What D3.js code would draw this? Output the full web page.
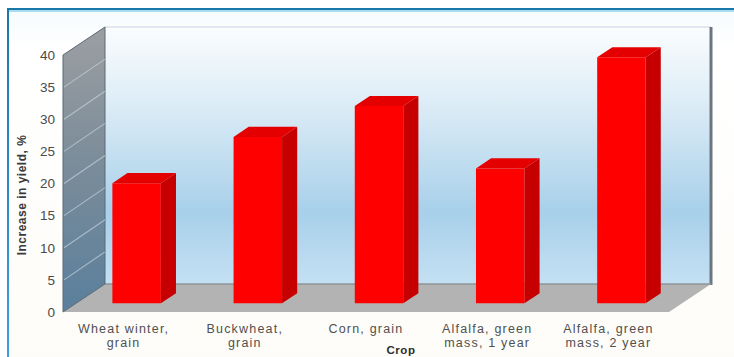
<!DOCTYPE html>
<html>
<head>
<meta charset="utf-8">
<script src="https://cdn.jsdelivr.net/npm/d3@7/dist/d3.min.js"></script>
<style>
  html, body { margin: 0; padding: 0; background: #fff; overflow: hidden; }
  svg { display: block; }
  text { font-family: "Liberation Sans", Arial, sans-serif; }
</style>
</head>
<body>
<svg id="chart" width="734" height="357"></svg>
<script>
// Yield increase per crop
const categories = [
  ["Wheat winter,", "grain"],
  ["Buckwheat,", "grain"],
  ["Corn, grain"],
  ["Alfalfa, green", "mass, 1 year"],
  ["Alfalfa, green", "mass, 2 year"]
];
const yieldIncrease = [18.7, 25.9, 30.7, 21, 38.3];
const yTicks = [0, 5, 10, 15, 20, 25, 30, 35, 40];
const yTitle = "Increase in yield, %";
const xTitle = "Crop";

const svg = d3.select("#chart");
const defs = svg.append("defs");

function linearGradient(id, y1, y2, stops) {
  const g = defs.append("linearGradient")
    .attr("id", id).attr("gradientUnits", "userSpaceOnUse")
    .attr("x1", 0).attr("x2", 0).attr("y1", y1).attr("y2", y2);
  stops.forEach(([o, c]) => g.append("stop").attr("offset", o).attr("stop-color", c));
}

// Plot box: the front plane plus an oblique depth offset
const plotLeft = 63, plotRight = 669, plotBase = 312, plotTop = 55;
const depthX = 42, depthY = 28;
const barZ0 = 0.31, barZ1 = 0.67;

const x = d3.scaleBand().domain(d3.range(categories.length))
  .range([plotLeft, plotRight]).paddingInner(0.6).paddingOuter(0.3);
const y = d3.scaleLinear().domain([0, 40]).range([plotBase, plotTop]);

// Maps a front-plane point and a depth fraction to the screen
const project = (px, py, z) => [px + z * depthX, py - z * depthY];
const poly = pts => pts.map(p => p.join(",")).join(" ");

linearGradient("panelBg", 9, 357, [[0, "#f6fbfd"], [0.12, "#ffffff"], [1, "#fdfcf8"]]);
linearGradient("frameLeft", 9, 357, [[0, "#1a78a8"], [1, "#3a9fe0"]]);
linearGradient("backWall", y(40) - depthY, plotBase - depthY, [
  [0, "#fbfdfe"], [0.3, "#dcecf6"], [0.72, "#a8d0ea"], [1, "#c4e0f3"]
]);
linearGradient("sideWall", y(40) - depthY, plotBase, [
  [0, "#9c9fa2"], [0.45, "#7d8d9a"], [1, "#5a7f9c"]
]);

// Outer panel, open towards the right and bottom edges
svg.append("rect").attr("x", 8).attr("y", 9).attr("width", 726).attr("height", 348)
  .attr("fill", "url(#panelBg)");
svg.append("line").attr("x1", 8).attr("x2", 734).attr("y1", 9).attr("y2", 9)
  .attr("stroke", "#1a78a8").attr("stroke-width", 2);
svg.append("line").attr("x1", 8).attr("x2", 734).attr("y1", 11).attr("y2", 11)
  .attr("stroke", "#a9dcf2").attr("stroke-width", 2);
svg.append("line").attr("x1", 8).attr("x2", 8).attr("y1", 8).attr("y2", 357)
  .attr("stroke", "url(#frameLeft)").attr("stroke-width", 2);

// Back wall
const backTL = project(plotLeft, y(40), 1), backBR = project(plotRight, plotBase, 1);
svg.append("rect")
  .attr("x", backTL[0]).attr("y", backTL[1])
  .attr("width", backBR[0] - backTL[0]).attr("height", backBR[1] - backTL[1])
  .attr("fill", "url(#backWall)");
svg.append("line")
  .attr("x1", backTL[0]).attr("x2", backBR[0]).attr("y1", backTL[1]).attr("y2", backTL[1])
  .attr("stroke", "#cfcfe2").attr("stroke-width", 1.2);
svg.append("line")
  .attr("x1", backBR[0]).attr("x2", backBR[0]).attr("y1", backTL[1]).attr("y2", backBR[1] + 1)
  .attr("stroke", "#6c7680").attr("stroke-width", 3);

// Floor
svg.append("polygon")
  .attr("points", poly([
    project(plotLeft, plotBase, 0), project(plotRight, plotBase, 0),
    project(plotRight, plotBase, 1), project(plotLeft, plotBase, 1)
  ]))
  .attr("fill", "#b3b3b3");
svg.append("line")
  .attr("x1", backTL[0]).attr("x2", backBR[0]).attr("y1", backBR[1]).attr("y2", backBR[1])
  .attr("stroke", "#8f9499").attr("stroke-width", 1.5);

// Left wall and its slanted gridlines
svg.append("polygon")
  .attr("points", poly([
    project(plotLeft, plotBase, 0), project(plotLeft, y(40), 0),
    project(plotLeft, y(40), 1), project(plotLeft, plotBase, 1)
  ]))
  .attr("fill", "url(#sideWall)")
  .attr("stroke", "#5b6a76").attr("stroke-width", 1);
svg.append("g").selectAll("line")
  .data(yTicks.filter(t => t > 0 && t < 40))
  .join("line")
  .attr("x1", plotLeft + 1).attr("y1", d => y(d))
  .attr("x2", plotLeft + depthX).attr("y2", d => y(d) - depthY)
  .attr("stroke", "#c9d6df").attr("stroke-opacity", 0.65).attr("stroke-width", 1.2);

// Bars: side, top and front faces
const bars = svg.append("g").selectAll("g")
  .data(yieldIncrease)
  .join("g");

const barLeft = (d, i) => x(i);
const barRight = (d, i) => x(i) + x.bandwidth();

bars.append("polygon")
  .attr("fill", "#c60000")
  .attr("points", (d, i) => poly([
    project(barRight(d, i), y(0), barZ0), project(barRight(d, i), y(d), barZ0),
    project(barRight(d, i), y(d), barZ1), project(barRight(d, i), y(0), barZ1)
  ]));
bars.append("polygon")
  .attr("fill", "#e40000")
  .attr("points", (d, i) => poly([
    project(barLeft(d, i), y(d), barZ0), project(barRight(d, i), y(d), barZ0),
    project(barRight(d, i), y(d), barZ1), project(barLeft(d, i), y(d), barZ1)
  ]));
bars.append("polygon")
  .attr("fill", "#ff0000")
  .attr("points", (d, i) => poly([
    project(barLeft(d, i), y(0), barZ0), project(barRight(d, i), y(0), barZ0),
    project(barRight(d, i), y(d), barZ0), project(barLeft(d, i), y(d), barZ0)
  ]));

// Value axis
const yAxis = svg.append("g")
  .attr("transform", `translate(${plotLeft - 8},0)`)
  .call(d3.axisLeft(y).tickValues(yTicks).tickSize(0).tickPadding(0));
yAxis.select(".domain").remove();
yAxis.selectAll("text")
  .attr("font-size", 13.5)
  .attr("fill", "#4a4a4a")
  .style("font-family", '"Liberation Sans", Arial, sans-serif');

svg.append("text")
  .attr("transform", "translate(26,195) rotate(-90)")
  .attr("text-anchor", "middle")
  .attr("font-size", 12)
  .attr("letter-spacing", 0.5)
  .attr("font-weight", 700)
  .attr("fill", "#3a3a3a")
  .text(yTitle);

// Category labels
const catLabels = svg.append("g").selectAll("text")
  .data(categories)
  .join("text")
  .attr("text-anchor", "middle")
  .attr("font-size", 12.5)
  .attr("letter-spacing", 1.2)
  .attr("fill", "#505050");
catLabels.selectAll("tspan")
  .data((d, i) => d.map(line => ({ line, cx: x(i) + x.bandwidth() / 2 })))
  .join("tspan")
  .attr("x", d => d.cx)
  .attr("y", (d, j) => 333 + j * 14)
  .text(d => d.line);

svg.append("text")
  .attr("x", 401).attr("y", 353.5)
  .attr("text-anchor", "middle")
  .attr("font-size", 11.5)
  .attr("letter-spacing", 0.6)
  .attr("font-weight", 700)
  .attr("fill", "#2e2e2e")
  .text(xTitle);
</script>
</body>
</html>
